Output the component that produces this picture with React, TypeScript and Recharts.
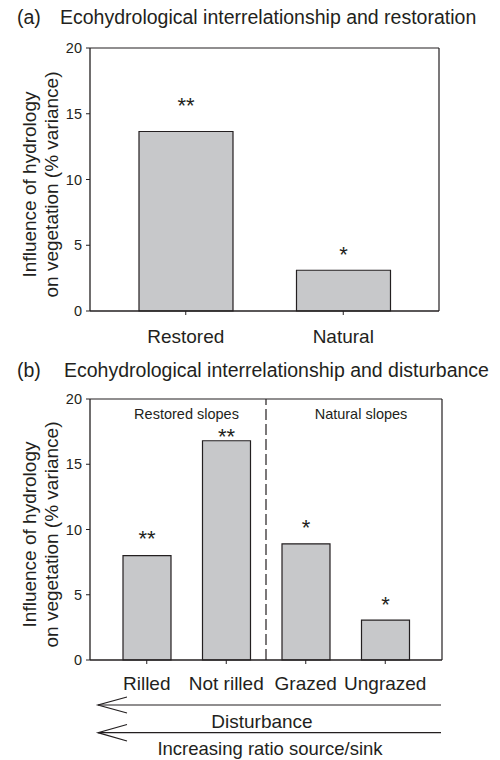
import { Bar, BarChart, CartesianGrid, LabelList, ReferenceArea, ReferenceLine, XAxis, YAxis } from "recharts";

const FONT = "'Liberation Sans', Arial, Helvetica, sans-serif";
const INK = "#231f20";
const BAR_FILL = "#c7c8ca";

// (a) restoration
const restorationSites = ["Restored", "Natural"];
const restorationVariance = [13.65, 3.1];
const restorationSig = ["**", "*"];

// (b) disturbance
const disturbanceSites = ["Rilled", "Not rilled", "Grazed", "Ungrazed"];
const disturbanceVariance = [8.0, 16.8, 8.9, 3.05];
const disturbanceSig = ["**", "**", "*", "*"];

const yTicks = [0, 5, 10, 15, 20];

// how far each significance mark's baseline sits above its bar
const GAP_A = [19, 8];
const GAP_B = [10, -3, 9, 8];

const dataA = restorationSites.map((site, i) => ({
  site,
  value: restorationVariance[i],
  sig: restorationSig[i],
}));
const dataB = disturbanceSites.map((site, i) => ({
  site,
  value: disturbanceVariance[i],
  sig: disturbanceSig[i],
}));

const sigLabel = (gaps: number[]) => (props: any) => {
  const vb = props.viewBox ?? props;
  const i = props.index ?? 0;
  return (
    <text
      x={vb.x + vb.width / 2}
      y={vb.y - gaps[i]}
      textAnchor="middle"
      fontSize={22}
      fontFamily={FONT}
      fill={INK}
    >
      {props.value}
    </text>
  );
};

const YLabel = (props: any) => {
  const vb = props.viewBox;
  const cy = vb.y + vb.height / 2 + 5;
  const lines: [string, number][] = [
    ["Influence of hydrology", vb.x + 6],
    ["on vegetation (% variance)", vb.x + 28],
  ];
  return (
    <g>
      {lines.map(([t, x]) => (
        <text
          key={t}
          x={x}
          y={cy}
          transform={`rotate(-90 ${x} ${cy})`}
          textAnchor="middle"
          fontSize={19}
          fontFamily={FONT}
          fill={INK}
        >
          {t}
        </text>
      ))}
    </g>
  );
};

const slopeLabel = (text: string, dx: number) => (props: any) => {
  const vb = props.viewBox;
  return (
    <text
      x={vb.x + vb.width / 2 + dx}
      y={vb.y + 20}
      textAnchor="middle"
      fontSize={14.5}
      fontFamily={FONT}
      fill={INK}
    >
      {text}
    </text>
  );
};

// top and right edges of the plot box
const topEdge = ({ offset }: any) => [offset.top];
const rightEdge = ({ offset }: any) => [offset.left + offset.width];

function Panel({
  data,
  height,
  margin,
  xHeight,
  barSize,
  gaps,
  tickMargin,
  children,
}: {
  data: any[];
  height: number;
  margin: { top: number; right: number; bottom: number; left: number };
  xHeight: number;
  barSize: number;
  gaps: number[];
  tickMargin: number;
  children?: any;
}) {
  return (
    <BarChart width={500} height={height} data={data} margin={margin}>
      <CartesianGrid
        stroke={INK}
        strokeWidth={1.2}
        horizontalCoordinatesGenerator={topEdge}
        verticalCoordinatesGenerator={rightEdge}
      />
      <XAxis
        dataKey="site"
        height={xHeight}
        padding={{ left: 17, right: 17 }}
        axisLine={{ stroke: INK, strokeWidth: 1.6 }}
        tickLine={{ stroke: INK, strokeWidth: 1 }}
        tickSize={4}
        tickMargin={tickMargin}
        tick={{ fill: INK, fontSize: 19, fontFamily: FONT }}
        interval={0}
      />
      <YAxis
        domain={[0, 20]}
        ticks={yTicks}
        width={60}
        axisLine={{ stroke: INK, strokeWidth: 1.3 }}
        tickLine={{ stroke: INK, strokeWidth: 1 }}
        tickSize={4}
        tickMargin={4}
        tick={{ fill: INK, fontSize: 14.5, fontFamily: FONT }}
        label={{ content: YLabel }}
      />
      {children}
      <Bar
        dataKey="value"
        fill={BAR_FILL}
        stroke={INK}
        strokeWidth={1.2}
        barSize={barSize}
        isAnimationActive={false}
      >
        <LabelList dataKey="sig" content={sigLabel(gaps)} />
      </Bar>
    </BarChart>
  );
}

export default function App() {
  return (
    <div
      style={{
        position: "absolute",
        left: 0,
        top: 0,
        width: 500,
        height: 760,
        background: "#fff",
        fontFamily: FONT,
      }}
    >
      <svg width={500} height={760} style={{ position: "absolute", left: 0, top: 0 }}>
        <g fontFamily={FONT} fill={INK}>
          <text x={17} y={24} fontSize={19.5}>(a)</text>
          <text x={60} y={24} fontSize={19.5}>
            Ecohydrological interrelationship and restoration
          </text>
          <text x={17} y={377} fontSize={19.5}>(b)</text>
          <text x={64} y={377} fontSize={19.5}>
            Ecohydrological interrelationship and disturbance
          </text>
          <text x={262} y={728} fontSize={19} textAnchor="middle">Disturbance</text>
          <text x={270} y={755} fontSize={18.5} textAnchor="middle">
            Increasing ratio source/sink
          </text>
        </g>
        <g stroke={INK} strokeWidth={1.2} fill="none">
          <line x1={98} y1={705} x2={441} y2={705} />
          <polyline points="127,697 98,705 127,713" />
          <line x1={98} y1={732.7} x2={441} y2={732.7} />
          <polyline points="127,724.5 98,732.7 127,741" />
        </g>
      </svg>

      <div style={{ position: "absolute", left: 0, top: 0 }}>
        <Panel
          data={dataA}
          height={360}
          margin={{ top: 48, right: 61, bottom: 9, left: 30 }}
          xHeight={40}
          barSize={94}
          gaps={GAP_A}
          tickMargin={15}
        />
      </div>

      <div style={{ position: "absolute", left: 0, top: 360 }}>
        <Panel
          data={dataB}
          height={340}
          margin={{ top: 39, right: 58, bottom: 10, left: 30 }}
          xHeight={30}
          barSize={48}
          gaps={GAP_B}
          tickMargin={13}
        >
          <ReferenceLine
            x="Not rilled"
            position="end"
            stroke={INK}
            strokeWidth={1.2}
            strokeDasharray="11 4"
          />
          <ReferenceArea
            x1="Rilled"
            x2="Not rilled"
            fill="none"
            strokeOpacity={0}
            label={{ content: slopeLabel("Restored slopes", 0) }}
          />
          <ReferenceArea
            x1="Grazed"
            x2="Ungrazed"
            fill="none"
            strokeOpacity={0}
            label={{ content: slopeLabel("Natural slopes", 15.5) }}
          />
        </Panel>
      </div>
    </div>
  );
}
